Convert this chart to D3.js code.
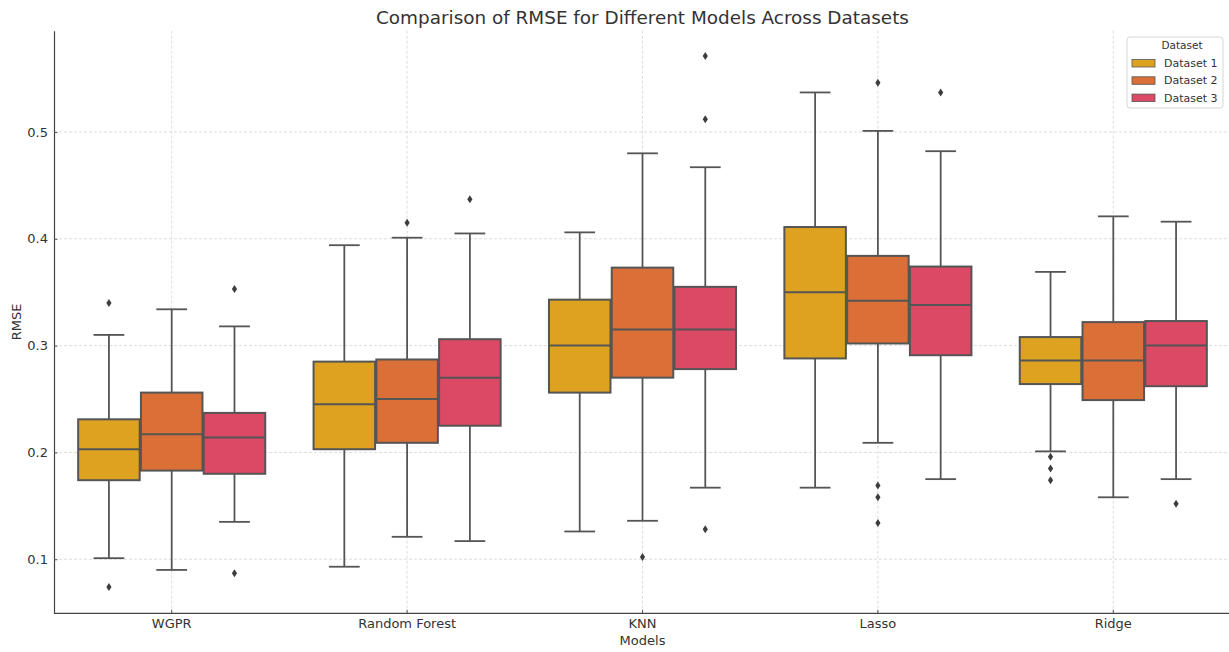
<!DOCTYPE html>
<html>
<head>
<meta charset="utf-8">
<script src="https://cdn.jsdelivr.net/npm/d3@7"></script>
<style>
  body { margin: 0; background: #fff; }
  svg { font-family: "DejaVu Sans", sans-serif; }
</style>
</head>
<body>
<div id="chart"></div>
<script>
var models = ["WGPR", "Random Forest", "KNN", "Lasso", "Ridge"];
var datasets = ["Dataset 1", "Dataset 2", "Dataset 3"];
var yTicks = [0.1, 0.2, 0.3, 0.4, 0.5];

// [lower whisker, Q1, median, Q3, upper whisker] for each model
var dataset1Stats = [
    [0.101, 0.174, 0.203, 0.231, 0.310],
    [0.093, 0.203, 0.245, 0.285, 0.394],
    [0.126, 0.256, 0.300, 0.343, 0.406],
    [0.167, 0.288, 0.350, 0.411, 0.537],
    [0.201, 0.264, 0.286, 0.308, 0.369]];
var dataset2Stats = [
    [0.090, 0.183, 0.217, 0.256, 0.334],
    [0.121, 0.209, 0.250, 0.287, 0.401],
    [0.136, 0.270, 0.315, 0.373, 0.480],
    [0.209, 0.302, 0.342, 0.384, 0.501],
    [0.158, 0.249, 0.286, 0.322, 0.421]];
var dataset3Stats = [
    [0.135, 0.180, 0.214, 0.237, 0.318],
    [0.117, 0.225, 0.270, 0.306, 0.405],
    [0.167, 0.278, 0.315, 0.355, 0.467],
    [0.175, 0.291, 0.338, 0.374, 0.482],
    [0.175, 0.262, 0.300, 0.323, 0.416]];

// fliers for each model
var dataset1Outliers = [[0.074, 0.340], [], [], [], [0.196, 0.185, 0.174]];
var dataset2Outliers = [[], [0.415], [0.102], [0.546, 0.169, 0.158, 0.134], []];
var dataset3Outliers = [[0.353, 0.087], [0.437], [0.571, 0.512, 0.128], [0.537], [0.152]];

var colors = ["#DEA221", "#DA6F37", "#DB4964"];
var lineColor = "#555555";

var width = 1229, height = 652;
var margin = {left: 54, right: -2, top: 30.7, bottom: 38.7};

var svg = d3.select("#chart").append("svg")
    .attr("width", width).attr("height", height);

var x = d3.scaleBand().domain(models)
    .range([margin.left, width - margin.right]).padding(0);
var bw = x.bandwidth();
var xHue = d3.scaleBand().domain(datasets).range([-0.4 * bw, 0.4 * bw]).padding(0);
var boxW = xHue.bandwidth() * 0.98;

var y = d3.scaleLinear().domain([0.0494, 0.5948])
    .range([height - margin.bottom, margin.top]);

// grid
var grid = svg.append("g");
grid.selectAll(".hgrid").data(yTicks).enter().append("line")
    .attr("x1", margin.left).attr("x2", width)
    .attr("y1", function(d) { return y(d); }).attr("y2", function(d) { return y(d); })
    .attr("stroke", "#d4d4d4").attr("stroke-width", 0.8).attr("stroke-dasharray", "3,2");
grid.selectAll(".vgrid").data(models).enter().append("line")
    .attr("x1", function(d) { return x(d) + bw / 2; }).attr("x2", function(d) { return x(d) + bw / 2; })
    .attr("y1", margin.top).attr("y2", height - margin.bottom)
    .attr("stroke", "#d4d4d4").attr("stroke-width", 0.8).attr("stroke-dasharray", "3,2");

var allStats = [dataset1Stats, dataset2Stats, dataset3Stats];
var allOutliers = [dataset1Outliers, dataset2Outliers, dataset3Outliers];

var boxes = [];
datasets.forEach(function(ds, i) {
    models.forEach(function(m, j) {
        boxes.push({model: m, dataset: ds, color: colors[i], s: allStats[i][j], out: allOutliers[i][j]});
    });
});

var g = svg.append("g").selectAll("g").data(boxes).enter().append("g")
    .attr("transform", function(d) {
        return "translate(" + (x(d.model) + bw / 2 + xHue(d.dataset) + xHue.bandwidth() / 2) + ",0)";
    });

// whiskers
g.append("line").attr("x1", 0).attr("x2", 0)
    .attr("y1", function(d) { return y(d.s[0]); }).attr("y2", function(d) { return y(d.s[1]); })
    .attr("stroke", lineColor).attr("stroke-width", 1.8);
g.append("line").attr("x1", 0).attr("x2", 0)
    .attr("y1", function(d) { return y(d.s[3]); }).attr("y2", function(d) { return y(d.s[4]); })
    .attr("stroke", lineColor).attr("stroke-width", 1.8);
// caps
[0, 4].forEach(function(k) {
    g.append("line").attr("x1", -boxW / 4).attr("x2", boxW / 4)
        .attr("y1", function(d) { return y(d.s[k]); }).attr("y2", function(d) { return y(d.s[k]); })
        .attr("stroke", lineColor).attr("stroke-width", 1.8);
});
// box
g.append("rect").attr("x", -boxW / 2).attr("width", boxW)
    .attr("y", function(d) { return y(d.s[3]); })
    .attr("height", function(d) { return y(d.s[1]) - y(d.s[3]); })
    .attr("fill", function(d) { return d.color; })
    .attr("stroke", lineColor).attr("stroke-width", 2);
// median
g.append("line").attr("x1", -boxW / 2).attr("x2", boxW / 2)
    .attr("y1", function(d) { return y(d.s[2]); }).attr("y2", function(d) { return y(d.s[2]); })
    .attr("stroke", lineColor).attr("stroke-width", 2);
// fliers (thin diamonds)
g.selectAll("path").data(function(d) { return d.out; }).enter().append("path")
    .attr("d", function(v) {
        var cy = y(v);
        return "M0," + (cy - 4) + "L2.6," + cy + "L0," + (cy + 4) + "L-2.6," + cy + "Z";
    })
    .attr("fill", "#3d3d3d");

// axes
var yAxis = svg.append("g").attr("transform", "translate(" + margin.left + ",0)")
    .call(d3.axisLeft(y).tickValues(yTicks).tickFormat(d3.format(".1f")).tickSizeInner(-3.5).tickSizeOuter(0).tickPadding(6));
var xAxis = svg.append("g").attr("transform", "translate(0," + (height - margin.bottom) + ")")
    .call(d3.axisBottom(x).tickSizeInner(-3.5).tickSizeOuter(0).tickPadding(5.5));
[yAxis, xAxis].forEach(function(a) {
    a.select(".domain").attr("stroke", "#444").attr("stroke-width", 1.2);
    a.selectAll(".tick line").attr("stroke", "#555");
    a.selectAll(".tick text").attr("fill", "#333").style("font-size", "13px")
        .style("font-family", "DejaVu Sans");
});
xAxis.select(".domain").attr("d", "M" + margin.left + ",0H" + width);

// labels
svg.append("text").attr("x", (margin.left + width - margin.right) / 2).attr("y", 23.5)
    .attr("text-anchor", "middle").attr("fill", "#333").style("font-size", "18.4px")
    .text("Comparison of RMSE for Different Models Across Datasets");
svg.append("text").attr("x", (margin.left + width - margin.right) / 2).attr("y", 645)
    .attr("text-anchor", "middle").attr("fill", "#333").style("font-size", "13px")
    .text("Models");
svg.append("text").attr("transform", "translate(21," + ((margin.top + height - margin.bottom) / 2) + ") rotate(-90)")
    .attr("text-anchor", "middle").attr("fill", "#333").style("font-size", "13px")
    .text("RMSE");

// legend
var lg = svg.append("g").attr("transform", "translate(1127,37)");
lg.append("rect").attr("width", 96).attr("height", 71).attr("rx", 3)
    .attr("fill", "#fff").attr("fill-opacity", 0.85).attr("stroke", "#d6d6d6");
lg.append("text").attr("x", 55).attr("y", 12).attr("text-anchor", "middle")
    .attr("fill", "#333").style("font-size", "10.5px").text("Dataset");
var items = lg.selectAll(".item").data(datasets).enter().append("g")
    .attr("transform", function(d, i) { return "translate(5," + (26 + i * 17.3) + ")"; });
items.append("rect").attr("x", 0).attr("y", -3.5).attr("width", 23).attr("height", 7.5)
    .attr("fill", function(d, i) { return colors[i]; }).attr("stroke", lineColor).attr("stroke-width", 0.8);
items.append("text").attr("x", 32).attr("y", 4).attr("fill", "#333").style("font-size", "11px")
    .text(function(d) { return d; });
</script>
</body>
</html>
